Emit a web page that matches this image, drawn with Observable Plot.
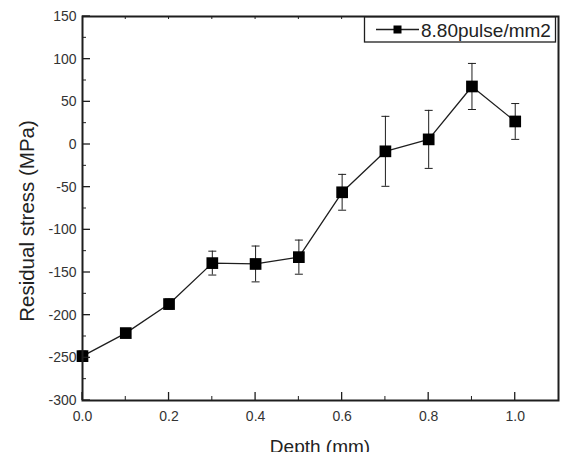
<!DOCTYPE html>
<html>
<head>
<meta charset="utf-8">
<script src="https://cdn.jsdelivr.net/npm/d3@7"></script>
<script src="https://cdn.jsdelivr.net/npm/@observablehq/plot@0.6"></script>
<style>
  html, body { margin: 0; padding: 0; background: #fff; }
  #chart svg { display: block; }
</style>
</head>
<body>
<div id="chart"></div>
<script>
// Residual stress profile vs. depth (one laser-peening density)
const seriesName = "8.80pulse/mm2";
const depth  = [0.0, 0.1, 0.2, 0.3, 0.4, 0.5, 0.6, 0.7, 0.8, 0.9, 1.0];
const stress = [-248, -221, -187, -139, -140, -132, -56, -8, 6, 68, 27];
const errs   = [6, 5, 6, 14, 21, 20, 21, 41, 34, 27, 21];

const xMajor = [0.0, 0.2, 0.4, 0.6, 0.8, 1.0];
const xMinor = [0.1, 0.3, 0.5, 0.7, 0.9];
const xTop   = [0.1, 0.2, 0.3, 0.4, 0.5, 0.6, 0.7, 0.8, 0.9, 1.0];
const yMajor = [-300, -250, -200, -150, -100, -50, 0, 50, 100, 150];
const yMinor = [-275, -225, -175, -125, -75, -25, 25, 75, 125];

const rows = depth.map((d, i) => ({ d, s: stress[i], e: errs[i] }));

const ink = "#1e1e1e";
const font = "'Liberation Sans', Arial, sans-serif";

// horizontal cap for the error bars
const capSymbol = {
  draw(ctx, size) {
    const r = Math.sqrt(size / Math.PI);
    ctx.moveTo(-r, 0);
    ctx.lineTo(r, 0);
  }
};

const W = 561, H = 452;
const mLeft = 82, mTop = 16, mRight = 3, mBottom = 52;

const chart = Plot.plot({
  width: W,
  height: H,
  marginLeft: mLeft,
  marginTop: mTop,
  marginRight: mRight,
  marginBottom: mBottom,
  style: { fontFamily: font, fontSize: "14px", color: "#333", background: "#fff" },
  x: { domain: [0, 1.1] },
  y: { domain: [-300, 150] },
  marks: [
    // tick labels
    Plot.axisX({ ticks: xMajor, tickSize: 0, tickPadding: 11, tickFormat: d3.format(".1f"), label: null }),
    Plot.axisY({ ticks: yMajor, tickSize: 0, tickPadding: 6, tickFormat: d => String(d), label: null }),
    // error bars
    Plot.ruleX(rows, { x: "d", y1: r => r.s - r.e, y2: r => r.s + r.e, stroke: ink, strokeWidth: 1 }),
    Plot.dot(rows, { x: "d", y: r => r.s + r.e, symbol: capSymbol, r: 4, stroke: ink, fill: "none", strokeWidth: 1 }),
    Plot.dot(rows, { x: "d", y: r => r.s - r.e, symbol: capSymbol, r: 4, stroke: ink, fill: "none", strokeWidth: 1 }),
    // series
    Plot.line(rows, { x: "d", y: "s", stroke: ink, strokeWidth: 1.3 }),
    Plot.dot(rows, { x: "d", y: "s", symbol: "square", r: 6.6, fill: "#000", stroke: "none" }),
    Plot.frame({ stroke: ink, strokeWidth: 2 })
  ]
});

const svg = d3.select(chart);
const sx = chart.scale("x"), sy = chart.scale("y");
const x0 = mLeft, x1 = W - mRight, y0 = mTop, y1 = H - mBottom;

// inward tick marks on the frame
const ticks = svg.append("g").attr("stroke", ink);
const addX = (vals, yBase, len, sw) => vals.forEach(v => {
  const px = sx.apply(v);
  ticks.append("line").attr("x1", px).attr("x2", px).attr("y1", yBase).attr("y2", yBase + len).attr("stroke-width", sw);
});
const addY = (vals, len, sw) => vals.forEach(v => {
  const py = sy.apply(v);
  ticks.append("line").attr("x1", x0).attr("x2", x0 + len).attr("y1", py).attr("y2", py).attr("stroke-width", sw);
});
addX(xMajor, y1, -8, 1.3);
addX(xMinor, y1, -4, 1);
addX(xTop, y0, 3, 1);
addY(yMajor, 8, 1.3);
addY(yMinor, 4, 1);

// axis titles
svg.append("text")
  .attr("x", x0 + (x1 - x0) / 2)
  .attr("y", 453)
  .attr("text-anchor", "middle")
  .attr("font-family", font)
  .attr("font-size", 19)
  .attr("fill", "#222")
  .text("Depth (mm)");

svg.append("text")
  .attr("transform", "translate(34,221) rotate(-90)")
  .attr("text-anchor", "middle")
  .attr("font-family", font)
  .attr("font-size", 20.5)
  .attr("fill", "#222")
  .text("Residual stress (MPa)");

// legend box
const lg = svg.append("g");
lg.append("rect")
  .attr("x", 364.5).attr("y", 17).attr("width", 191).attr("height", 25)
  .attr("fill", "#fff").attr("stroke", ink).attr("stroke-width", 1.3);
lg.append("line")
  .attr("x1", 376).attr("x2", 419).attr("y1", 29.5).attr("y2", 29.5)
  .attr("stroke", ink).attr("stroke-width", 1.3);
lg.append("rect")
  .attr("x", 393.5).attr("y", 25.5).attr("width", 8).attr("height", 8)
  .attr("fill", "#000");
lg.append("text")
  .attr("x", 421).attr("y", 37)
  .attr("text-anchor", "start")
  .attr("font-family", font)
  .attr("font-size", 19)
  .attr("fill", "#222")
  .text(seriesName);

document.getElementById("chart").appendChild(chart);
</script>
</body>
</html>
